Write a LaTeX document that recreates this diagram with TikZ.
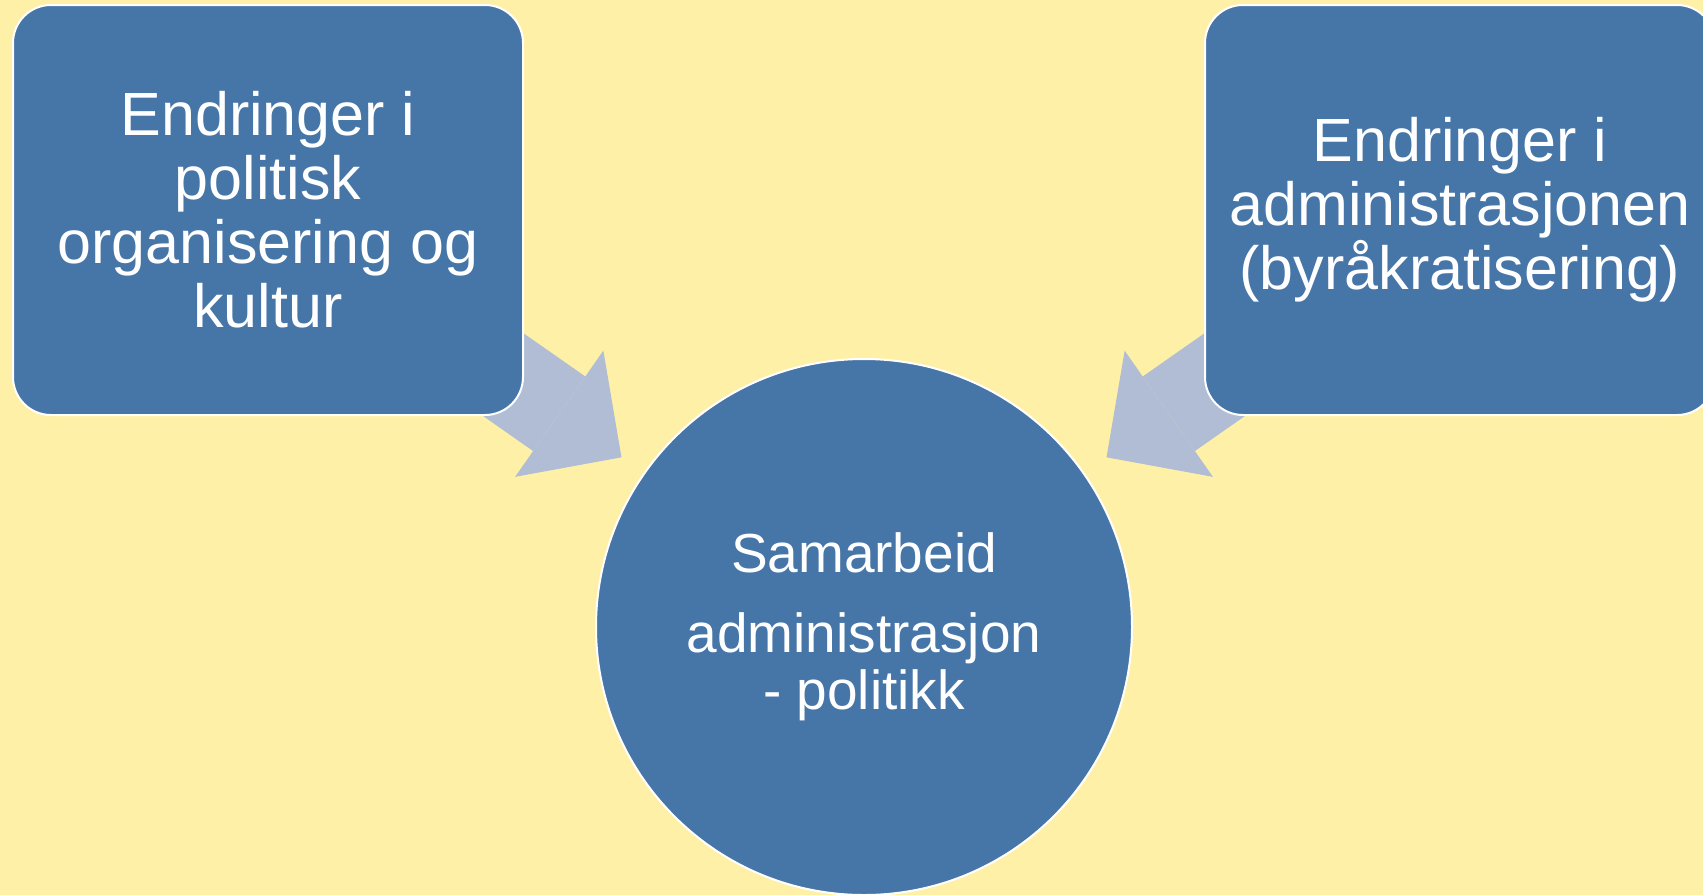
\documentclass[tikz,border=0pt]{standalone}
\usepackage{fontspec}
\setmainfont{Liberation Sans}
\usepackage{tikz}
\usetikzlibrary{arrows.meta,backgrounds}
\definecolor{bgyellow}{RGB}{255,240,168}
\definecolor{boxblue}{RGB}{70,117,168}
\definecolor{arrowgrey}{RGB}{176,189,213}

\begin{document}
\begin{tikzpicture}[x=0.5pt, y=0.5pt,
	box/.style={draw=white, line width=1pt, fill=boxblue, text=white, rounded corners=19pt, minimum width=255pt, minimum height=205pt, inner sep=0pt, align=center, font=\fontsize{30.5}{32}\selectfont},
	hub/.style={draw=white, line width=1pt, fill=boxblue, text=white, circle, minimum size=268pt, inner sep=0pt, align=center, font=\fontsize{27.5}{28.5}\selectfont},
	bigarrow/.style={color=arrowgrey, line width=45.5pt, -{Triangle[length=38pt, width=77pt, line width=0pt]}, shorten >=13.5pt}]
\useasboundingbox (0,0) rectangle (1703,-895);
\node[box] (pol) at (268,-210) {Endringer i\\politisk\\organisering og\\kultur};
\node[box] (adm) at (1460,-210) {Endringer i\\administrasjonen\\(byråkratisering)};
\node[hub] (sam) at (864,-627) {Samarbeid\\[11.5pt]administrasjon\\- politikk};
\begin{pgfonlayer}{background}
\fill[bgyellow] (0,0) rectangle (1703,-895);
\path[bigarrow]
(pol.center) edge (sam)
(adm.center) edge (sam);
\end{pgfonlayer}
\end{tikzpicture}
\end{document}
